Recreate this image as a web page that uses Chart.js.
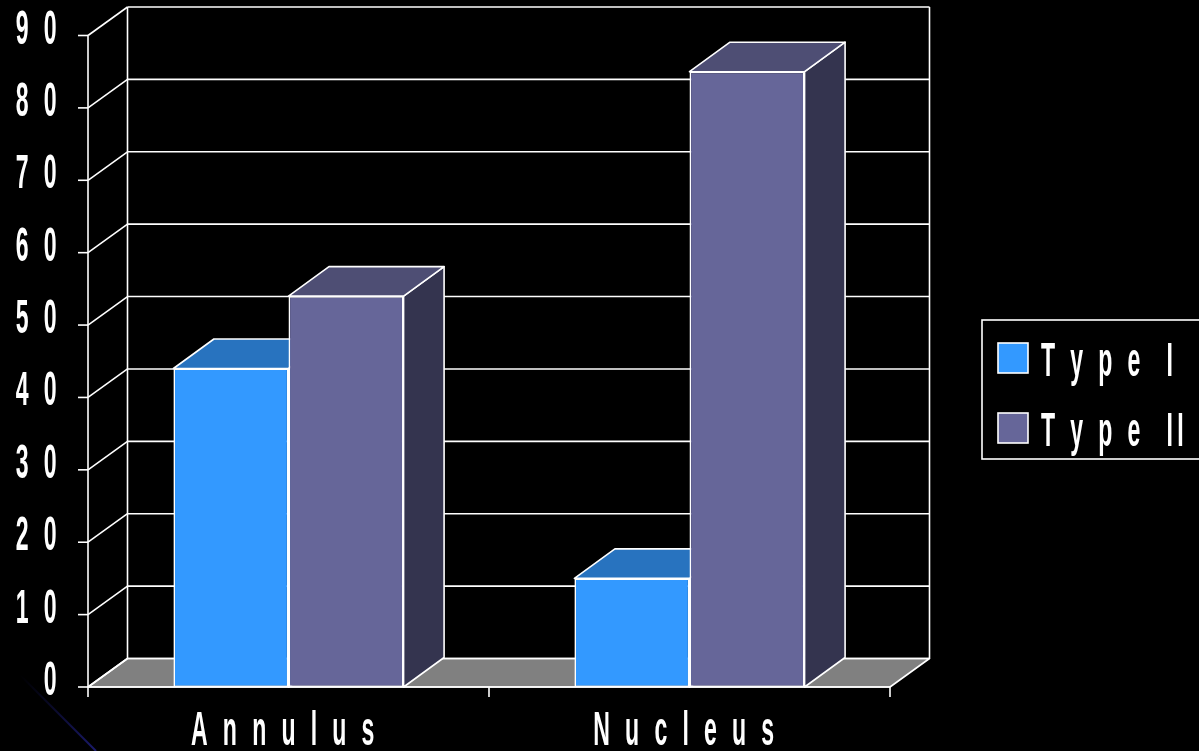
<!DOCTYPE html>
<html>
<head>
<meta charset="utf-8">
<title>Type I / Type II</title>
<script src="https://cdn.jsdelivr.net/npm/chart.js@4/dist/chart.umd.min.js"></script>
<style>
  html, body { margin: 0; padding: 0; background: #000; }
  #wrap { position: relative; width: 1199px; height: 751px; }
</style>
</head>
<body>
<div id="wrap"><canvas id="chart"></canvas></div>
<script>
// ---- data ----
const categories = ['A n n u l u s', 'N u c l e u s'];
const seriesNames = ['T y p e  I', 'T y p e  II'];
const typeI = [44, 15];
const typeII = [54, 85];
const yTickValues = [0, 10, 20, 30, 40, 50, 60, 70, 80, 90];
const yTickLabels = ['0', '1 0', '2 0', '3 0', '4 0', '5 0', '6 0', '7 0', '8 0', '9 0'];

// ---- look ----
const faceColors = [
  { front: '#3399ff', top: '#2873bf', side: '#1f5c99' },
  { front: '#666699', top: '#4e4e74', side: '#34344f' }
];
const WALL_DX = 39.5, WALL_DY = 28.5;   // depth of the box walls
const BAR_DX = 40.5, BAR_DY = 29.5;     // depth of each bar
const LINE_W = 1.6;
const TEXT_FONT = 'bold 48px "Liberation Sans", Arial, sans-serif';
const SQUEEZE = 0.48;                   // horizontal compression of the lettering
const SPACING = 4.4;                    // extra gap after each character

function squeezedText(ctx, str, x, y, align) {
  ctx.save();
  ctx.font = TEXT_FONT;
  ctx.fillStyle = '#ffffff';
  ctx.textAlign = align;
  ctx.textBaseline = 'alphabetic';
  ctx.translate(x, y);
  ctx.scale(SQUEEZE, 1);
  ctx.letterSpacing = (SPACING / SQUEEZE) + 'px';
  ctx.fillText(str, 0, 0);
  ctx.restore();
}

function poly(ctx, pts, fill) {
  ctx.beginPath();
  ctx.moveTo(pts[0][0], pts[0][1]);
  for (let i = 1; i < pts.length; i++) ctx.lineTo(pts[i][0], pts[i][1]);
  ctx.closePath();
  if (fill) { ctx.fillStyle = fill; ctx.fill(); }
  ctx.stroke();
}

function line(ctx, x1, y1, x2, y2) {
  ctx.beginPath();
  ctx.moveTo(x1, y1);
  ctx.lineTo(x2, y2);
  ctx.stroke();
}

// Box, floor, walls, bar depth faces, axis lettering and legend
const box3d = {
  id: 'box3d',
  beforeDraw(chart) {
    const ctx = chart.ctx;
    ctx.save();
    ctx.fillStyle = '#000';
    ctx.fillRect(0, 0, chart.width, chart.height);
    // faint streak in the lower-left corner
    const g = ctx.createLinearGradient(20, 675, 96, 751);
    g.addColorStop(0, 'rgba(20,20,90,0)');
    g.addColorStop(1, 'rgba(28,28,115,0.95)');
    ctx.strokeStyle = g;
    ctx.lineWidth = 2;
    ctx.filter = 'blur(0.6px)';
    line(ctx, 20, 675, 96, 751);
    ctx.restore();
  },
  beforeDatasetsDraw(chart) {
    const { ctx, chartArea: { left, right }, scales: { x, y } } = chart;
    const y0 = y.getPixelForValue(0);
    const yTop = y.getPixelForValue(yTickValues[yTickValues.length - 1]);
    ctx.save();
    ctx.strokeStyle = '#ffffff';
    ctx.lineWidth = LINE_W;
    ctx.lineJoin = 'round';

    // floor
    poly(ctx, [[left, y0], [right, y0], [right + WALL_DX, y0 - WALL_DY], [left + WALL_DX, y0 - WALL_DY]], '#808080');

    // back wall gridlines, side wall diagonals and front ticks
    yTickValues.forEach(v => {
      const py = y.getPixelForValue(v);
      line(ctx, left + WALL_DX, py - WALL_DY, right + WALL_DX, py - WALL_DY);
      line(ctx, left, py, left + WALL_DX, py - WALL_DY);
      line(ctx, left - 10, py, left, py);
    });
    // wall edges
    line(ctx, left + WALL_DX, yTop - WALL_DY, left + WALL_DX, y0 - WALL_DY);
    line(ctx, right + WALL_DX, yTop - WALL_DY, right + WALL_DX, y0 - WALL_DY);
    // front axes
    line(ctx, left, yTop, left, y0);
    line(ctx, left, y0, right, y0);
    // category boundary ticks
    const n = categories.length;
    for (let i = 0; i <= n; i++) {
      const px = left + (right - left) * i / n;
      line(ctx, px, y0, px, y0 + 10);
    }

    // depth faces (top and side) of every bar, first series first;
    // the front faces drawn afterwards by the chart cover what lies behind them
    chart.data.datasets.forEach((ds, di) => {
      const c = faceColors[di];
      chart.getDatasetMeta(di).data.forEach(bar => {
        const { x: bx, y: by, base, width } = bar.getProps(['x', 'y', 'base', 'width'], true);
        const L = bx - width / 2, R = bx + width / 2;
        poly(ctx, [[R, by], [R + BAR_DX, by - BAR_DY], [R + BAR_DX, base - BAR_DY], [R, base]], c.side);
        poly(ctx, [[L, by], [R, by], [R + BAR_DX, by - BAR_DY], [L + BAR_DX, by - BAR_DY]], c.top);
      });
    });
    ctx.restore();
  },
  afterDraw(chart) {
    const { ctx, scales: { x, y } } = chart;
    // value axis lettering
    yTickValues.forEach((v, i) => {
      squeezedText(ctx, yTickLabels[i], 61, y.getPixelForValue(v) + 8, 'right');
    });
    // category lettering
    categories.forEach((lab, i) => {
      squeezedText(ctx, lab, x.getPixelForTick(i) - 3.6, 745, 'center');
    });
    // legend
    ctx.save();
    ctx.strokeStyle = '#ffffff';
    ctx.lineWidth = LINE_W;
    ctx.strokeRect(982, 320, 260, 139);
    chart.data.datasets.forEach((ds, i) => {
      const top = 343 + i * 70;
      ctx.fillStyle = ds.backgroundColor;
      ctx.fillRect(998, top, 30, 30);
      ctx.strokeRect(998, top, 30, 30);
      squeezedText(ctx, ds.label, 1041, top + 33, 'left');
    });
    ctx.restore();
  }
};

new Chart(document.getElementById('chart'), {
  type: 'bar',
  data: {
    labels: categories,
    datasets: [
      { label: seriesNames[0], data: typeI, backgroundColor: faceColors[0].front,
        borderColor: '#ffffff', borderWidth: LINE_W, borderSkipped: false },
      { label: seriesNames[1], data: typeII, backgroundColor: faceColors[1].front,
        borderColor: '#ffffff', borderWidth: LINE_W, borderSkipped: false }
    ]
  },
  options: {
    responsive: true,
    maintainAspectRatio: false,
    devicePixelRatio: 1,
    animation: false,
    layout: { padding: { left: 88, right: 309, top: 35.5, bottom: 64 } },
    datasets: { bar: { categoryPercentage: 0.574, barPercentage: 1 } },
    scales: {
      x: { display: false, offset: true },
      y: { display: false, min: 0, max: 90 }
    },
    plugins: {
      legend: { display: false },
      tooltip: { enabled: false }
    }
  },
  plugins: [box3d]
});
</script>
</body>
</html>
